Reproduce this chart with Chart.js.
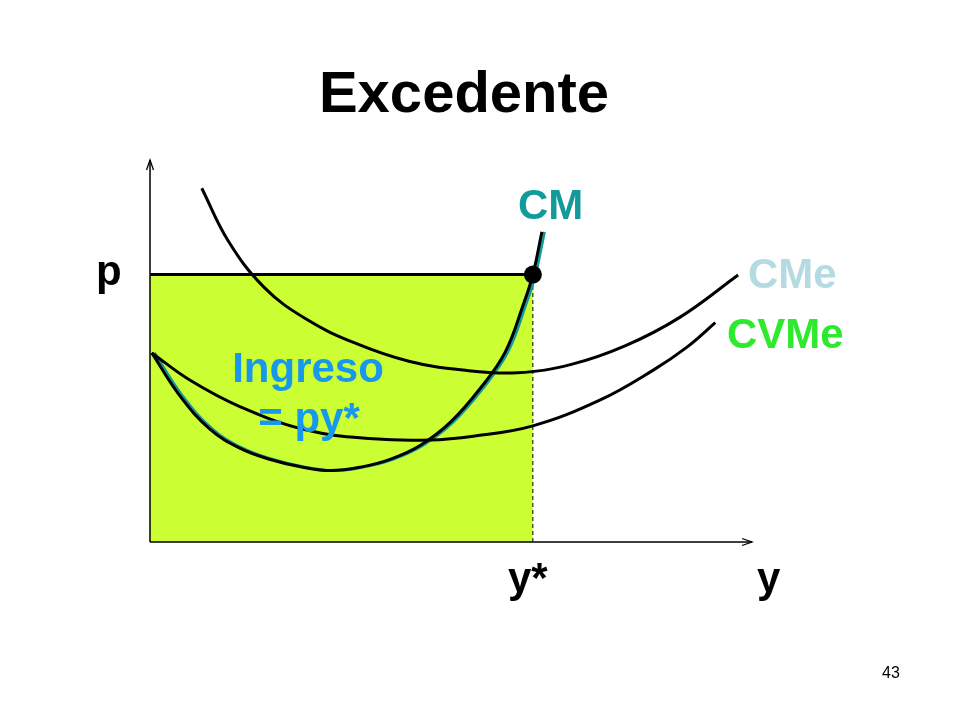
<!DOCTYPE html>
<html>
<head>
<meta charset="utf-8">
<script src="https://cdn.jsdelivr.net/npm/chart.js@4"></script>
<style>
html,body{margin:0;padding:0;background:#fff;}
#wrap{width:960px;height:720px;position:relative;}
</style>
</head>
<body>
<div id="wrap"><canvas id="c"></canvas></div>
<script>
// ---- data (x = quantity y, y = price/cost) ----
const price = 7.0;          // p
const yStar = 6.36;         // y*
const mcX  = [0.03, 0.50, 1.00, 1.50, 2.00, 2.50, 3.00, 3.50, 4.00, 4.50, 5.00, 5.50, 5.90, 6.20, 6.36, 6.51];
const mcY  = [4.95, 3.82, 2.95, 2.45, 2.16, 1.97, 1.87, 1.96, 2.17, 2.54, 3.15, 4.05, 4.97, 6.21, 7.00, 8.12];
const atcX = [0.86, 1.30, 1.90, 2.60, 3.40, 4.30, 5.20, 6.10, 7.00, 7.90, 8.80, 9.77];
const atcY = [9.26, 7.88, 6.66, 5.83, 5.21, 4.73, 4.50, 4.43, 4.65, 5.14, 5.88, 6.99];
const avcX = [0.03, 0.66, 1.50, 2.60, 3.71, 4.65, 5.37, 6.36, 7.48, 8.36, 8.92, 9.39];
const avcY = [4.95, 4.24, 3.54, 2.93, 2.70, 2.67, 2.77, 3.04, 3.72, 4.50, 5.10, 5.74];
const titleText = "Excedente";
const labels = {
  cm: "CM", cme: "CMe", cvme: "CVMe", p: "p", ystar: "y*", y: "y",
  ingreso1: "Ingreso", ingreso2: "= py*", page: "43"
};

const pts = (xs, ys) => xs.map((x, i) => ({x: x, y: ys[i]}));

const FONT = "'Liberation Sans', Arial, sans-serif";

const decor = {
  id: 'decor',
  beforeDatasetDraw(chart, args) {
    if (args.meta.label === 'CM-teal') {
      chart.ctx.save();
      chart.ctx.translate(2.5, 0);
    }
  },
  afterDatasetDraw(chart, args) {
    if (args.meta.label === 'CM-teal') chart.ctx.restore();
  },
  afterDraw(chart) {
    const ctx = chart.ctx;
    const a = chart.chartArea;
    ctx.save();
    // axes
    ctx.strokeStyle = '#000';
    ctx.lineWidth = 1.5;
    ctx.beginPath();
    ctx.moveTo(a.left, a.bottom);
    ctx.lineTo(a.left, a.top);
    ctx.moveTo(a.left, a.bottom);
    ctx.lineTo(a.right, a.bottom);
    ctx.stroke();
    ctx.lineWidth = 1.3;
    ctx.beginPath();
    ctx.moveTo(a.left - 3.5, a.top + 10);
    ctx.lineTo(a.left, a.top);
    ctx.lineTo(a.left + 3.5, a.top + 10);
    ctx.moveTo(a.right - 10, a.bottom - 3.5);
    ctx.lineTo(a.right, a.bottom);
    ctx.lineTo(a.right - 10, a.bottom + 3.5);
    ctx.stroke();

    // texts
    ctx.textBaseline = 'alphabetic';
    ctx.textAlign = 'center';
    ctx.fillStyle = '#000';
    ctx.font = 'bold 58px ' + FONT;
    ctx.fillText(titleText, 464, 112);

    ctx.font = 'bold 42px ' + FONT;
    ctx.fillStyle = '#1798ec';
    ctx.fillText(labels.ingreso1, 308, 382);
    ctx.fillText(labels.ingreso2, 309, 432);

    ctx.textAlign = 'left';
    ctx.fillStyle = '#139a9a';
    ctx.fillText(labels.cm, 518, 219);
    ctx.fillStyle = '#b5dbe2';
    ctx.fillText(labels.cme, 748, 288);
    ctx.fillStyle = '#2eea2e';
    ctx.fillText(labels.cvme, 727, 348);
    ctx.fillStyle = '#000';
    ctx.fillText(labels.p, 96, 285);
    ctx.fillText(labels.ystar, 508, 592);
    ctx.fillText(labels.y, 757, 592);

    ctx.font = '16px ' + FONT;
    ctx.fillText(labels.page, 882, 678);
    ctx.restore();
  }
};

const curveStyle = { borderWidth: 3, pointRadius: 0, tension: 0.4, fill: false };

new Chart(document.getElementById('c'), {
  type: 'line',
  data: {
    datasets: [
      { label: 'dot', data: [{x: yStar, y: price}], showLine: false,
        pointRadius: 9, pointBackgroundColor: '#000', pointBorderWidth: 0, order: 0 },
      Object.assign({ label: 'CM', data: pts(mcX, mcY), borderColor: '#000', order: 1 }, curveStyle),
      Object.assign({ label: 'CMe', data: pts(atcX, atcY), borderColor: '#000', order: 2 }, curveStyle),
      Object.assign({ label: 'CVMe', data: pts(avcX, avcY), borderColor: '#000', order: 3 }, curveStyle),
      Object.assign({ label: 'CM-teal', data: pts(mcX, mcY), borderColor: '#129999', order: 4 }, curveStyle),
      { label: 'ystar-line', data: [{x: yStar, y: 0}, {x: yStar, y: price}],
        borderColor: '#000', borderWidth: 1, borderDash: [4, 3],
        pointRadius: 0, fill: false, order: 5 },
      { label: 'Ingreso', data: [{x: 0, y: price}, {x: yStar, y: price}],
        borderColor: '#000', borderWidth: 3, backgroundColor: '#ccff33',
        pointRadius: 0, fill: 'origin', order: 6 }
    ]
  },
  options: {
    responsive: true,
    maintainAspectRatio: false,
    animation: false,
    layout: { padding: { left: 150, right: 208, top: 160, bottom: 178 } },
    datasets: { line: { clip: false } },
    scales: {
      x: { type: 'linear', min: 0, max: 10, display: false },
      y: { type: 'linear', min: 0, max: 10, display: false }
    },
    plugins: {
      legend: { display: false },
      tooltip: { enabled: false },
      title: { display: false }
    }
  },
  plugins: [decor]
});
</script>
</body>
</html>
